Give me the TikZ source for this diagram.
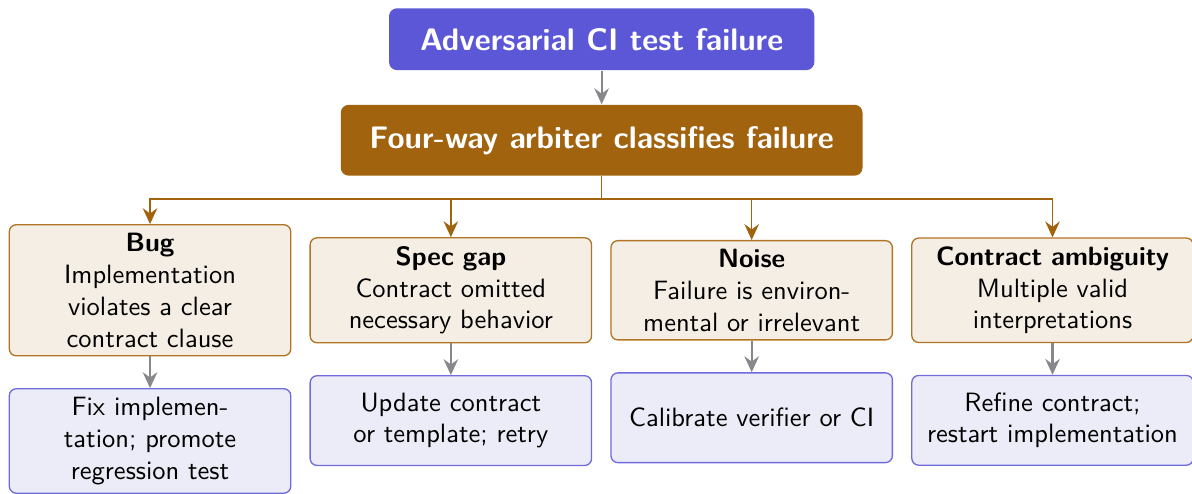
\documentclass[tikz,border=0pt]{standalone}
\usepackage{tikz}
\usetikzlibrary{positioning,arrows.meta}

\definecolor{headblue}{RGB}{91,87,214}
\definecolor{arbbrown}{RGB}{161,99,14}
\definecolor{catfill}{RGB}{245,238,228}
\definecolor{catdraw}{RGB}{176,116,36}
\definecolor{actfill}{RGB}{236,236,248}
\definecolor{actdraw}{RGB}{112,108,222}
\definecolor{arrgray}{RGB}{136,136,140}

\tikzset{
    headbox/.style={rounded corners=3pt,fill=headblue,text=white,font=\sffamily\fontsize{11.75pt}{14pt}\selectfont\bfseries,minimum width=5.64cm,minimum height=0.82cm},
    arbbox/.style={rounded corners=3pt,fill=arbbrown,text=white,font=\sffamily\fontsize{11.75pt}{14pt}\selectfont\bfseries,minimum width=6.92cm,minimum height=0.94cm},
    catbox/.style={rounded corners=2.6pt,draw=catdraw,line width=0.5pt,fill=catfill,font=\sffamily,text width=3.36cm,align=center,inner xsep=5.3pt,inner ysep=3.2pt,minimum height=1.19cm},
    actbox/.style={rounded corners=2.6pt,draw=actdraw,line width=0.5pt,fill=actfill,font=\sffamily,text width=3.36cm,align=center,inner xsep=5.3pt,inner ysep=3.2pt,minimum height=1.19cm},
    grayarrow/.style={-{Stealth[length=6pt,width=5.5pt,inset=2pt]},draw=arrgray,line width=0.8pt},
    brownarrow/.style={-{Stealth[length=6pt,width=5.5pt,inset=2pt]},draw=arbbrown,line width=0.6pt}
}

\begin{document}
\begin{tikzpicture}
    \pgfmathsetmacro{\colstep}{3.99}
    \pgfmathsetmacro{\colleft}{1.99}
    \pgfmathsetmacro{\midx}{7.98}
    \pgfmathsetmacro{\busy}{-2.64}
    \pgfmathsetmacro{\caty}{-3.85}
    \useasboundingbox (0,0) rectangle (15.81,-6.55);
    \node[headbox] (failure) at (\midx,-0.52) {Adversarial CI test failure};
    \node[arbbox] (arbiter) at (\midx,-1.86) {Four-way arbiter classifies failure};
    \node[catbox] (bug) at (\colleft,\caty) {\textbf{Bug}\\Implementation violates a clear contract clause};
    \node[catbox] (gap) at (\colleft+\colstep,\caty) {\textbf{Spec gap}\\Contract omitted necessary behavior};
    \node[catbox] (noise) at (\colleft+2*\colstep,\caty) {\textbf{Noise}\\Failure is environmental or irrelevant};
    \node[catbox] (ambig) at (\colleft+3*\colstep,\caty) {\textbf{Contract ambiguity}\\Multiple valid interpretations};
    \node[actbox,below=0.42cm of bug] (fixbug) {Fix implementation; promote regression test};
    \node[actbox,below=0.42cm of gap] (fixgap) {Update contract or template; retry};
    \node[actbox,below=0.42cm of noise] (fixnoise) {Calibrate verifier or CI};
    \node[actbox,below=0.42cm of ambig] (fixambig) {Refine contract; restart implementation};
    \coordinate (bus) at (\midx,\busy);
    \draw[grayarrow] (failure) -- (arbiter);
    \draw[draw=arbbrown,line width=0.6pt] (arbiter.south) -- (bus);
    \foreach \n in {bug,gap,noise,ambig}
        \draw[brownarrow] (bus) -| (\n.north);
    \foreach \a/\b in {bug/fixbug,gap/fixgap,noise/fixnoise,ambig/fixambig}
        \draw[grayarrow] (\a) -- (\b);
\end{tikzpicture}
\end{document}
